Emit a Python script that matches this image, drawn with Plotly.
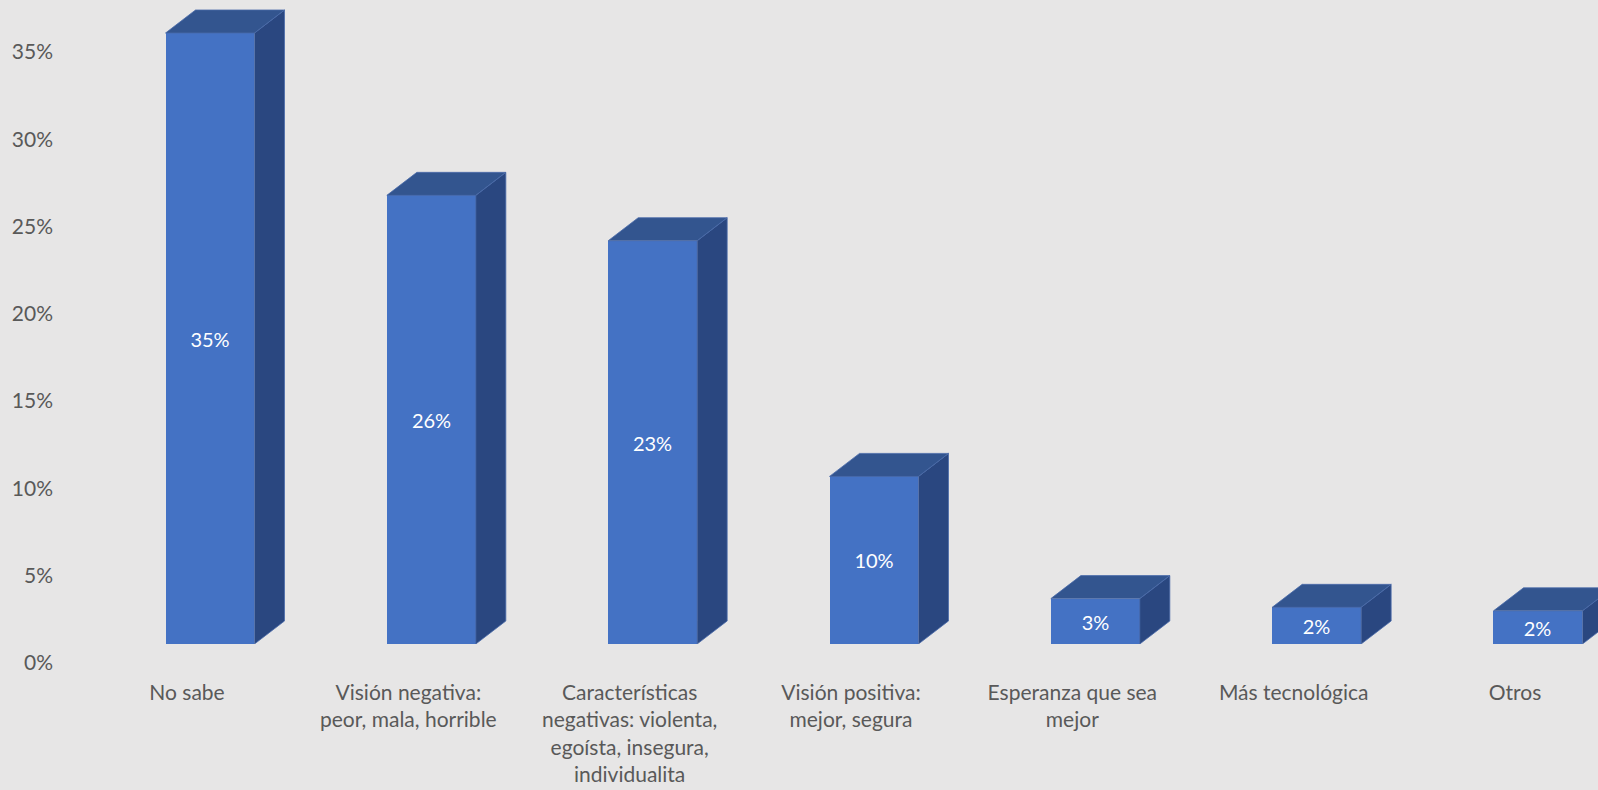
import plotly.graph_objects as go

categories = ["No sabe", "Visión negativa:<br>peor, mala, horrible",
              "Características<br>negativas: violenta,<br>egoísta, insegura,<br>individualita",
              "Visión positiva:<br>mejor, segura", "Esperanza que sea<br>mejor",
              "Más tecnológica", "Otros"]
values = [35.0, 25.7, 23.1, 9.6, 2.6, 2.1, 1.9]
y_ticks = [0, 5, 10, 15, 20, 25, 30, 35]

# styling / 3D geometry (in data units)
W = 0.402     # front face width (category units)
DX = 0.1356   # depth offset in x
DY = 1.318    # depth offset in y (percent units)
FRONT = "#4472C4"
TOP = "#33558F"
SIDE = "#2A4780"
EDGE = "#4A6BAA"
BG = "#E7E6E6"
TXT = "#595959"
FONT = "Lato"

xs = list(range(len(categories)))
fig = go.Figure()

for i, v in zip(xs, values):
    l, r = i - W / 2, i + W / 2
    # side face
    fig.add_trace(go.Scatter(
        x=[r, r + DX, r + DX, r, r], y=[0, DY, v + DY, v, 0],
        mode="lines", fill="toself", fillcolor=SIDE,
        line=dict(color=EDGE, width=0.8), hoverinfo="skip", showlegend=False))
    # top face
    fig.add_trace(go.Scatter(
        x=[l, r, r + DX, l + DX, l], y=[v, v, v + DY, v + DY, v],
        mode="lines", fill="toself", fillcolor=TOP,
        line=dict(color=EDGE, width=0.8), hoverinfo="skip", showlegend=False))

fig.add_trace(go.Bar(
    x=xs, y=values, width=W, marker=dict(color=FRONT, line=dict(width=0)),
    text=[f"{round(v):.0f}%" for v in values], textposition="inside",
    insidetextanchor="middle", textangle=0, constraintext="none",
    textfont=dict(color="white", size=20, family=FONT),
    hoverinfo="skip", showlegend=False))

W_PX, H_PX = 1598, 790
L, R, T, B = 60, 0, 0, 146
px_per_cat = 221.33
first_center = 210
xmin = (L - first_center) / px_per_cat
xmax = (W_PX - R - first_center) / px_per_cat
px_per_pct = 611 / 35.0
ymax = (H_PX - B - T) / px_per_pct

fig.update_layout(
    width=W_PX, height=H_PX,
    margin=dict(l=L, r=R, t=T, b=B, pad=0),
    paper_bgcolor=BG, plot_bgcolor=BG,
    font=dict(family=FONT, color=TXT, size=21),
    bargap=0,
    xaxis=dict(range=[xmin, xmax], tickmode="array", tickvals=xs, ticktext=categories,
               showgrid=False, zeroline=False, showline=False, ticks="",
               tickangle=0, ticklabelshift=-23, ticklabelstandoff=34,
               tickfont=dict(size=21, color=TXT)),
    yaxis=dict(range=[0, ymax], tickmode="array", tickvals=y_ticks,
               ticktext=[f"{t}%" for t in y_ticks],
               showgrid=False, zeroline=False, showline=False, ticks="",
               ticklabelshift=19, ticklabelstandoff=6,
               tickfont=dict(size=21, color=TXT)),
)

fig.write_html("out.html", config={"displayModeBar": False},
               post_script="document.body.style.margin='0';document.body.style.overflow='hidden';")
